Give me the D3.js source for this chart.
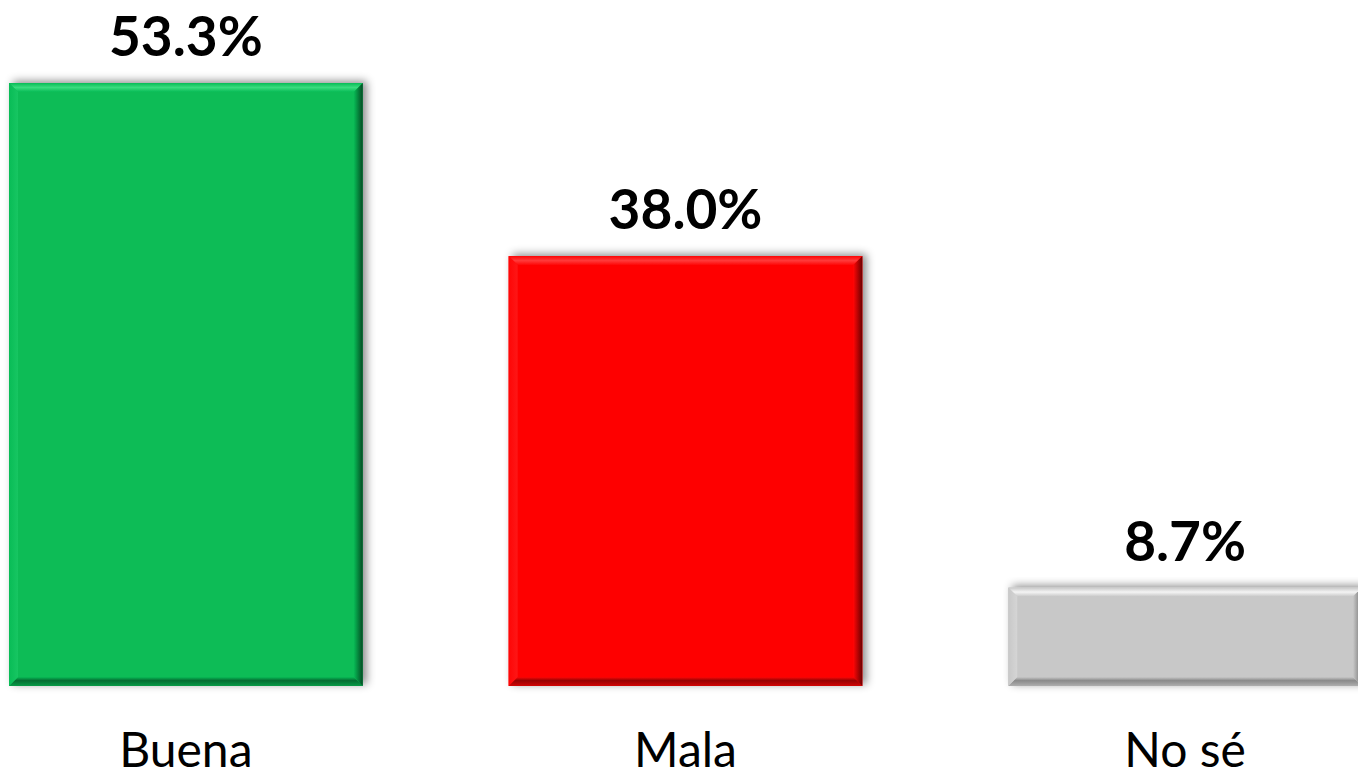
<!DOCTYPE html>
<html><head><meta charset="utf-8">
<script src="https://cdn.jsdelivr.net/npm/d3@7"></script>
<style>body{margin:0;background:#fff;}svg{display:block;}</style>
</head><body>
<svg id="chart" width="1358" height="777"></svg>
<script>
const categories = ["Buena", "Mala", "No sé"];
const values = [53.3, 38.0, 8.7];
const valueLabels = ["53.3%", "38.0%", "8.7%"];
const colors = ["#08BC56", "#FE0606", "#C8C8C8"];
const lightColors = ["#3ADC7E", "#FF3A3A", "#F4F4F4"];
const darkColors = ["#034A22", "#6A0000", "#707070"];

const svg = d3.select("#chart");
const x = d3.scaleBand().domain(categories).range([9, 1362]).paddingInner(0.292).paddingOuter(0);
const y = d3.scaleLinear().domain([0, 53.3]).range([686, 83]);

const defs = svg.append("defs");
const f = defs.append("filter").attr("id","shadow").attr("x","-10%").attr("y","-10%").attr("width","130%").attr("height","130%");
f.append("feDropShadow").attr("dx",4).attr("dy",-2).attr("stdDeviation",4).attr("flood-color","#000").attr("flood-opacity",0.45);

const data = categories.map((c,i)=>({c, v:values[i], label:valueLabels[i], i}));
const bevel = 9;

const bars = svg.append("g").selectAll("g.bar").data(data).join("g").attr("class","bar");

bars.append("rect")
  .attr("x", d=>x(d.c)).attr("y", d=>y(d.v))
  .attr("width", x.bandwidth()).attr("height", d=>y(0)-y(d.v))
  .attr("fill", d=>colors[d.i]).attr("filter","url(#shadow)");

function sidePoly(d, side){
  const x0=x(d.c), x1=x0+x.bandwidth(), y0=y(d.v), y1=y(0), b=bevel;
  if(side==="top") return [[x0,y0],[x1,y0],[x1-b,y0+b],[x0+b,y0+b]];
  if(side==="bottom") return [[x0,y1],[x1,y1],[x1-b,y1-b],[x0+b,y1-b]];
  if(side==="left") return [[x0,y0],[x0+b,y0+b],[x0+b,y1-b],[x0,y1]];
  return [[x1,y0],[x1-b,y0+b],[x1-b,y1-b],[x1,y1]];
}
data.forEach(d=>{
  const mk=(id,x1,y1,x2,y2,stops)=>{
    const gr=defs.append("linearGradient").attr("id",id).attr("x1",x1).attr("y1",y1).attr("x2",x2).attr("y2",y2);
    stops.forEach(s=>gr.append("stop").attr("offset",s[0]).attr("stop-color",s[1]));
  };
  mk("top"+d.i,0,0,0,1,[[0,colors[d.i]],[0.5,lightColors[d.i]],[1,colors[d.i]]]);
  mk("bottom"+d.i,0,1,0,0,[[0,d3.interpolateRgb(colors[d.i],darkColors[d.i])(0.3)],[0.6,d3.interpolateRgb(colors[d.i],darkColors[d.i])(0.7)],[1,colors[d.i]]]);
  mk("left"+d.i,0,0,1,0,[[0,colors[d.i]],[1,d3.interpolateRgb(colors[d.i],lightColors[d.i])(0.3)]]);
  mk("right"+d.i,1,0,0,0,[[0,darkColors[d.i]],[1,colors[d.i]]]);
});
["top","bottom","left","right"].forEach(side=>{
  bars.append("polygon")
    .attr("points", d=>sidePoly(d,side).map(p=>p.join(",")).join(" "))
    .attr("fill", d=>`url(#${side}${d.i})`);
});

bars.append("text")
  .attr("x", d=>x(d.c)+x.bandwidth()/2).attr("y", d=>y(d.v)-27)
  .attr("text-anchor","middle")
  .style("font-family","Lato, 'Open Sans', sans-serif").style("font-weight","bold").style("font-size","55px")
  .attr("fill","#000").text(d=>d.label);

svg.append("g").selectAll("text").data(data).join("text")
  .attr("x", d=>x(d.c)+x.bandwidth()/2).attr("y", 767)
  .attr("text-anchor","middle")
  .style("font-family","Lato, 'Open Sans', sans-serif").style("font-size","48px")
  .attr("fill","#000").text(d=>d.c);
</script>
</body></html>
